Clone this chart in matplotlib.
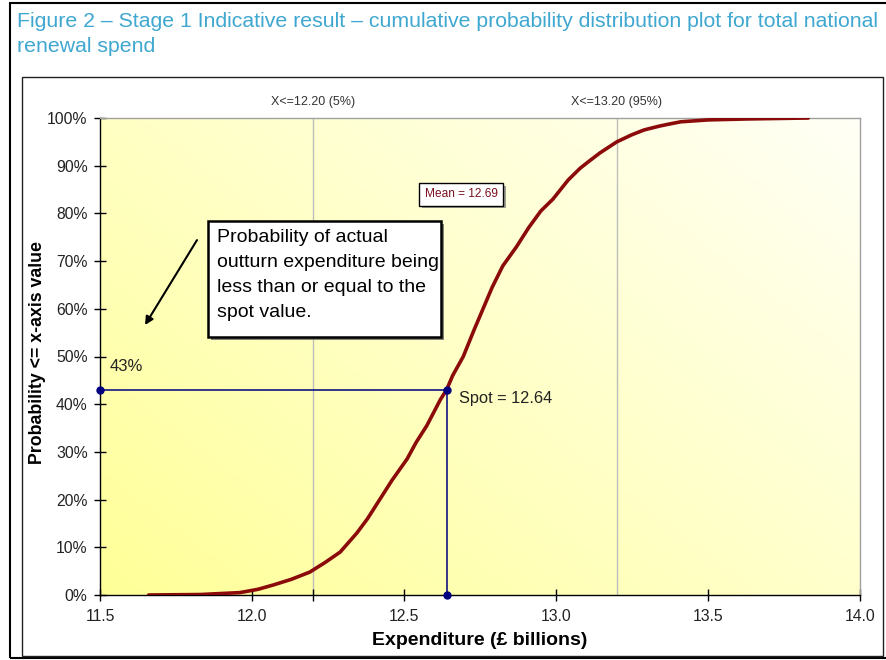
import numpy as np
import matplotlib
matplotlib.use("Agg")
import matplotlib.pyplot as plt
from matplotlib.patches import Rectangle
from matplotlib.colors import LinearSegmentedColormap
import matplotlib.patheffects as pe

plt.rcParams['font.family'] = ['Liberation Sans', 'DejaVu Sans']

# Cumulative distribution of total renewal spend (simulation output)
expenditure = [11.66, 11.83, 11.96, 12.02, 12.07, 12.13, 12.19, 12.24, 12.29, 12.345,
               12.38, 12.42, 12.46, 12.51, 12.54, 12.575, 12.62, 12.64, 12.66, 12.695,
               12.73, 12.76, 12.79, 12.825, 12.87, 12.91, 12.95, 12.99, 13.04, 13.08,
               13.11, 13.145, 13.20, 13.25, 13.29, 13.34, 13.37, 13.41, 13.50, 13.63, 13.83]
cum_prob_pct = [0, 0.1, 0.5, 1.2, 2.1, 3.3, 4.8, 6.8, 9.0, 13,
                16, 20, 24, 28.5, 32, 35.5, 41, 43, 46, 50,
                55.5, 60, 64.5, 69, 73, 77, 80.5, 83, 87, 89.5,
                91, 92.7, 95, 96.5, 97.5, 98.3, 98.7, 99.2, 99.6, 99.8, 100]

spot_value = 12.64
spot_prob = 0.43
mean_value = 12.69
p5_value, p95_value = 12.20, 13.20

x_ticks = [11.5, 12.0, 12.5, 13.0, 13.5, 14.0]
x_tick_labels = ["11.5", "12.0", "12.5", "13.0", "13.5", "14.0"]
y_ticks = [0, 0.1, 0.2, 0.3, 0.4, 0.5, 0.6, 0.7, 0.8, 0.9, 1.0]
y_tick_labels = ["0%", "10%", "20%", "30%", "40%", "50%", "60%", "70%", "80%", "90%", "100%"]

W, H = 886, 660
fig = plt.figure(figsize=(W / 100, H / 100), dpi=100)
fig.patch.set_facecolor('white')


def fx(px):
    return px / W


def fy(py):
    return 1 - py / H


# Outer page frame and inner chart frame
fig.patches.append(Rectangle((fx(10), fy(658)), fx(900) - fx(10), fy(3) - fy(658),
                             transform=fig.transFigure, fill=False, ec='black', lw=1.5))
fig.patches.append(Rectangle((fx(22), fy(656)), fx(883) - fx(22), fy(77) - fy(656),
                             transform=fig.transFigure, fill=False, ec='#222222', lw=1.0))

# Figure caption
title_kw = dict(color='#3FA7D0', fontsize=15.3, va='baseline', ha='left')
fig.text(fx(17), fy(27), "Figure 2 \u2013 Stage 1 Indicative result \u2013 cumulative probability "
         "distribution plot for total national", **title_kw)
fig.text(fx(17), fy(52), "renewal spend", **title_kw)

ax = fig.add_axes([fx(100), fy(595), fx(860) - fx(100), fy(118) - fy(595)])
ax.set_xlim(11.5, 14.0)
ax.set_ylim(0, 1.0)

# Diagonal yellow gradient background
cmap = LinearSegmentedColormap.from_list('bg', ['#FFFF98', '#FFFFC8', '#FFFFF6'])
gx, gy = np.meshgrid(np.linspace(0, 1, 200), np.linspace(0, 1, 200))
grad = (gx * 0.55 + gy * 0.45)
ax.imshow(grad, extent=[11.5, 14.0, 0, 1.0], origin='lower', aspect='auto',
          cmap=cmap, zorder=0, interpolation='bilinear')

# Percentile reference lines
for v in (p5_value, p95_value):
    ax.axvline(v, color='#BDBDBD', lw=1.0, zorder=1)
ax.text(p5_value, 1.022, "X<=12.20 (5%)", ha='center', va='bottom', fontsize=9,
        color='#333333', clip_on=False)
ax.text(p95_value, 1.022, "X<=13.20 (95%)", ha='center', va='bottom', fontsize=9,
        color='#333333', clip_on=False)

# CDF curve
cum_prob = np.array(cum_prob_pct) / 100.0
ax.plot(expenditure, cum_prob, color='#8B0A0A', lw=2.6, zorder=4, solid_capstyle='round')

# Spot value guide lines
ax.plot([11.5, spot_value], [spot_prob, spot_prob], color='#00007F', lw=1.1, zorder=3,
        clip_on=False)
ax.plot([spot_value, spot_value], [spot_prob, 0], color='#00007F', lw=1.1, zorder=3,
        clip_on=False)
ax.plot([11.5, spot_value, spot_value], [spot_prob, spot_prob, 0], ls='none', marker='o',
        ms=5, color='#00007F', zorder=5, clip_on=False)
ax.text(11.533, 0.48, "43%", fontsize=12, color='#222222', ha='left', va='center')
ax.text(12.68, 0.411, "Spot = 12.64", fontsize=11.8, color='#222222', ha='left', va='center')

# Mean label
mt = ax.text(mean_value - 0.002, 0.84, "Mean = 12.69", fontsize=8.6, color='#7A1020',
             ha='center', va='center', zorder=6,
             bbox=dict(boxstyle='square,pad=0.45', fc='white', ec='black', lw=1.0))
mt.get_bbox_patch().set_path_effects([
    pe.SimplePatchShadow(offset=(2, -2), shadow_rgbFace='#888888', alpha=0.8), pe.Normal()])

# Explanatory callout
box = Rectangle((11.855, 0.541), 12.622 - 11.855, 0.784 - 0.541, fc='white', ec='black',
                lw=1.8, zorder=6)
box.set_path_effects([pe.SimplePatchShadow(offset=(2, -2), shadow_rgbFace='#666666', alpha=0.8),
                      pe.Normal()])
ax.add_patch(box)
ax.text(11.885, 0.767, "Probability of actual\noutturn expenditure being\n"
        "less than or equal to the\nspot value.", fontsize=14, color='black',
        ha='left', va='top', linespacing=1.6, zorder=7)
ax.annotate('', xy=(11.648, 0.566), xytext=(11.819, 0.744),
            arrowprops=dict(arrowstyle='-|>', color='black', lw=1.5, mutation_scale=12,
                            shrinkA=0, shrinkB=0), zorder=7)

# Axes styling
for side in ('top', 'right'):
    ax.spines[side].set_color('#A0A0A0')
    ax.spines[side].set_linewidth(1.0)
for side in ('left', 'bottom'):
    ax.spines[side].set_color('black')
    ax.spines[side].set_linewidth(1.0)

ax.set_xticks(x_ticks)
ax.set_xticklabels(x_tick_labels)
ax.set_xticks([p5_value], minor=True)
ax.set_yticks(y_ticks)
ax.set_yticklabels(y_tick_labels)
ax.tick_params(axis='both', which='both', direction='inout', length=8, width=1.0,
               color='black', labelsize=11.3, labelcolor='#222222')
ax.tick_params(axis='x', pad=6)
ax.tick_params(axis='y', pad=5)

ax.set_xlabel("Expenditure (\u00a3 billions)", fontsize=14, fontweight='bold', labelpad=6)
ax.set_ylabel("Probability <= x-axis value", fontsize=12.8, fontweight='bold')
ax.yaxis.set_label_coords((46 - 100) / 760, (595 - 352) / 477)

fig.savefig("out.png", dpi=100)
